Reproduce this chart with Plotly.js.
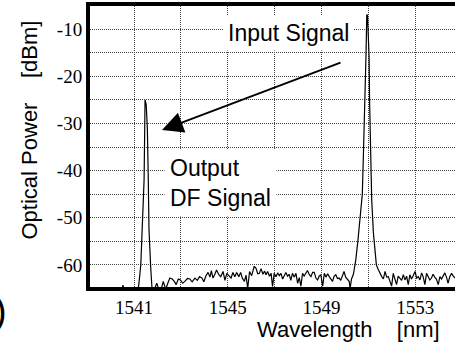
<!DOCTYPE html>
<html>
<head>
<meta charset="utf-8">
<script src="https://cdn.plot.ly/plotly-3.0.1.min.js"></script>
<style>html,body{margin:0;padding:0;background:#fff;}#chart{width:455px;height:344px;}</style>
</head>
<body>
<div id="chart"></div>
<script>
// Wavelength samples [nm]
const wavelength = [
  1539.0, 1539.5, 1540.0, 1540.45, 1540.53, 1540.6, 1541.15,
  1541.21, 1541.29, 1541.36, 1541.43, 1541.46, 1541.47, 1541.52, 1541.57, 1541.61, 1541.64, 1541.71, 1541.74, 1541.78,
  1541.85, 1541.97, 1542.08, 1542.18, 1542.25, 1542.35, 1542.45, 1542.53, 1542.63, 1542.72, 1542.80, 1542.89, 1542.98,
  1543.08, 1543.17, 1543.28, 1543.38, 1543.48, 1543.60, 1543.70, 1543.80, 1543.90, 1543.98, 1544.07, 1544.16, 1544.24,
  1544.30, 1544.37, 1544.45, 1544.52, 1544.62, 1544.70, 1544.80, 1544.88, 1544.96, 1545.05, 1545.14, 1545.22, 1545.30,
  1545.38, 1545.47, 1545.55, 1545.62, 1545.71, 1545.78, 1545.85, 1545.93, 1546.02, 1546.13, 1546.20, 1546.28, 1546.35,
  1546.42, 1546.50, 1546.57, 1546.63, 1546.70, 1546.78, 1546.85, 1546.91, 1546.98, 1547.06, 1547.13, 1547.20, 1547.27,
  1547.34, 1547.41, 1547.48, 1547.55, 1547.62, 1547.69, 1547.76, 1547.84, 1547.91, 1547.98, 1548.05, 1548.12, 1548.19,
  1548.26, 1548.33, 1548.40, 1548.48, 1548.55, 1548.62, 1548.69, 1548.76, 1548.83, 1548.90, 1548.97, 1549.05, 1549.12,
  1549.19, 1549.26, 1549.33, 1549.40, 1549.47, 1549.54, 1549.61, 1549.68, 1549.75, 1549.82, 1549.89, 1549.96, 1550.03,
  1550.10, 1550.18, 1550.22, 1550.28,
  1550.36, 1550.46, 1550.55, 1550.65, 1550.74, 1550.79, 1550.83, 1550.86, 1550.90, 1550.93, 1550.96, 1551.00, 1551.03,
  1551.05, 1551.09, 1551.14, 1551.21, 1551.28, 1551.34, 1551.42, 1551.51,
  1551.57, 1551.64, 1551.71, 1551.78, 1551.85, 1551.92, 1551.99, 1552.06, 1552.13, 1552.20, 1552.27, 1552.34, 1552.42,
  1552.49, 1552.56, 1552.63, 1552.70, 1552.77, 1552.84, 1552.91, 1552.99, 1553.06, 1553.13, 1553.20, 1553.27, 1553.34,
  1553.41, 1553.48, 1553.55, 1553.62, 1553.69, 1553.76, 1553.83, 1553.90, 1553.98, 1554.05, 1554.12, 1554.19, 1554.26,
  1554.33, 1554.40, 1554.47, 1554.55, 1554.62, 1554.70
];
// Optical power [dBm]
const power = [
  -66, -66, -66, -66, -64.3, -66, -66,
  -64, -60, -52, -42, -30, -25, -26, -31, -42, -52.5, -60.3, -64.5, -66,
  -65.5, -63.9, -65.5, -64.8, -63.5, -65.2, -63.8, -62.8, -63.0, -63.5, -64.2, -63.0, -63.2,
  -63.9, -63.5, -62.9, -63.0, -63.6, -62.8, -63.3, -62.5, -62.8, -63.6, -62.3, -61.6, -62.6,
  -61.2, -62.8, -62.0, -61.1, -62.1, -62.5, -61.4, -63.3, -61.8, -62.4, -62.8, -61.6, -62.5,
  -61.6, -62.5, -61.6, -62.8, -63.5, -62.2, -65.0, -61.4, -62.3, -60.3, -60.7, -61.9, -61.8,
  -60.8, -62.0, -61.3, -62.1, -61.4, -62.4, -61.8, -64.6, -61.8, -62.5, -61.7, -62.3, -61.8,
  -63.0, -62.1, -61.6, -62.4, -62.0, -63.3, -61.8, -62.6, -61.8, -63.9, -62.7, -64.5, -61.8,
  -62.4, -61.6, -61.2, -62.1, -62.5, -61.6, -61.6, -62.8, -63.2, -62.4, -62.1, -64.5, -61.8,
  -62.6, -61.9, -62.5, -63.0, -63.5, -62.4, -62.1, -62.9, -62.8, -63.3, -62.1, -61.4, -62.6,
  -63.0, -63.5, -65.0, -63.0,
  -62, -59, -55, -50, -45, -36, -30, -22, -15, -7, -7, -12, -16,
  -25, -33.5, -46, -53, -57, -60, -61, -62,
  -62.5, -63.0, -61.4, -62.6, -62.5, -63.5, -64.5, -61.8, -62.8, -64.2, -62.4, -62.8, -63.3,
  -62.1, -63.2, -62.4, -64.2, -62.1, -63.0, -62.3, -61.4, -62.8, -62.5, -63.2, -61.7, -62.6,
  -64.2, -61.8, -62.5, -63.2, -62.8, -62.0, -62.6, -63.0, -64.2, -62.5, -63.0, -62.2, -61.7,
  -62.6, -63.9, -62.5, -61.8, -62.4, -62.8
];
// Grid positions and their labels (blank = unlabeled gridline)
const xTickVals = [1539, 1541, 1543, 1545, 1547, 1549, 1551, 1553];
const xTickText = ['', '1541', '', '1545', '', '1549', '', '1553'];
const yTickVals = [-5, -10, -15, -20, -25, -30, -35, -40, -45, -50, -55, -60, -65];
const yTickText = ['', '-10', '', '-20', '', '-30', '', '-40', '', '-50', '', '-60', ''];
const xTitle = 'Wavelength\u00a0\u00a0\u00a0\u00a0[nm]';
const yTitle = 'Optical Power\u00a0\u00a0\u00a0\u00a0[dBm]';
const labelInput = 'Input Signal';
const labelOutput = 'Output<br>DF Signal';

const W = 455, H = 344;
const L = 90, R = 0, T = 6, B = 57;
const pw = W - L - R, ph = H - T - B;
const px = v => (v - L) / pw;
const py = v => (H - B - v) / ph;

const xr = [1541 - 44 / 23.44, 1541 + (W - 134) / 23.44];
const yr = [-64.7, -5.05];

const sans = "Liberation Sans, Arial, sans-serif";
const serif = "Liberation Serif, Times New Roman, serif";

const trace = {
  x: wavelength, y: power, type: 'scatter', mode: 'lines',
  line: {color: '#000', width: 1.2}, hoverinfo: 'skip'
};

const GC = '#444';
const GD = '1px,1px';

const layout = {
  width: W, height: H,
  margin: {l: L, r: R, t: T, b: B, pad: 0},
  paper_bgcolor: '#fff', plot_bgcolor: '#fff',
  showlegend: false,
  xaxis: {
    range: xr, tickvals: xTickVals, ticktext: xTickText,
    showgrid: true, gridcolor: GC, gridwidth: 1, griddash: GD,
    ticks: '', showline: true, linecolor: '#000', linewidth: 4, mirror: true,
    zeroline: false, tickfont: {family: serif, size: 19, color: '#000'}
  },
  yaxis: {
    range: yr, tickvals: yTickVals, ticktext: yTickText,
    showgrid: true, gridcolor: GC, gridwidth: 1, griddash: GD,
    ticks: '', showline: true, linecolor: '#000', linewidth: 4, mirror: false,
    zeroline: false, tickfont: {family: serif, size: 19, color: '#000'}
  },
  annotations: [
    {xref: 'paper', yref: 'paper', x: px(348), y: py(329), text: xTitle, showarrow: false,
     font: {family: sans, size: 22, color: '#000'}, xanchor: 'center', yanchor: 'middle'},
    {xref: 'paper', yref: 'paper', x: px(29), y: py(130.5), text: yTitle, showarrow: false, textangle: -90,
     font: {family: sans, size: 22, color: '#000'}, xanchor: 'center', yanchor: 'middle'},
    {xref: 'paper', yref: 'paper', x: px(288), y: py(33), text: labelInput, showarrow: false,
     font: {family: sans, size: 23, color: '#000'}, bgcolor: '#fff', borderpad: 4,
     xanchor: 'center', yanchor: 'middle'},
    {xref: 'paper', yref: 'paper', x: px(164), y: py(183), text: labelOutput, showarrow: false, align: 'left',
     font: {family: sans, size: 23, color: '#000'}, bgcolor: '#fff', borderpad: 5,
     xanchor: 'left', yanchor: 'middle'},
    {xref: 'paper', yref: 'paper', x: px(162), y: py(130), ax: 180, ay: -68, axref: 'pixel', ayref: 'pixel',
     text: '', showarrow: true, arrowhead: 2, arrowsize: 2.1, arrowwidth: 2, arrowcolor: '#000'},
    {xref: 'paper', yref: 'paper', x: px(9), y: py(311), text: ')', showarrow: false,
     font: {family: sans, size: 38, color: '#000'}, xanchor: 'right', yanchor: 'middle'}
  ]
};

Plotly.newPlot('chart', [trace], layout, {staticPlot: true, displayModeBar: false});
</script>
</body>
</html>
